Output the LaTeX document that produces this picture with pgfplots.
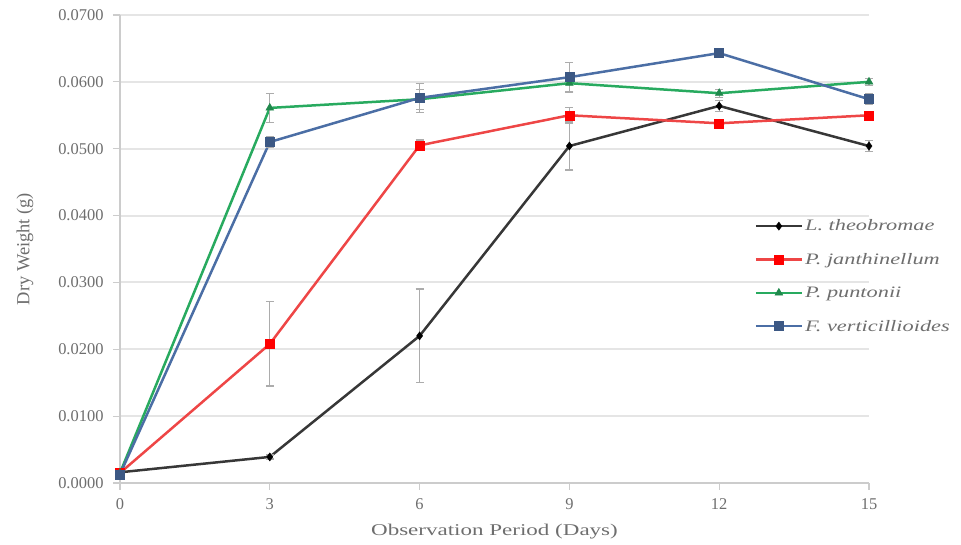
\documentclass[border=0pt]{standalone}
\usepackage{fontspec}
\setmainfont{Liberation Serif}[FakeStretch=1.4]
\newfontfamily\ylabfont{Liberation Serif}
\usepackage{pgfplots}
\pgfplotsset{compat=1.18}
\definecolor{lblack}{RGB}{55,55,55}
\definecolor{lred}{RGB}{238,70,70}
\definecolor{lgreen}{RGB}{40,170,95}
\definecolor{lblue}{RGB}{75,110,165}
\definecolor{txt}{RGB}{110,110,110}
\begin{document}
\begin{tikzpicture}
\begin{axis}[
  scale only axis,
  width=749bp, height=468bp,
  xmin=0, xmax=15, ymin=0, ymax=0.07,
  xtick={0,3,6,9,12,15},
  xticklabels={0,3,6,9,12,15},
  ytick={0,0.01,0.02,0.03,0.04,0.05,0.06,0.07},
  yticklabels={0.0000,0.0100,0.0200,0.0300,0.0400,0.0500,0.0600,0.0700},
  scaled y ticks=false,
  tick label style={font=\ylabfont\fontsize{16.5}{18}\selectfont, text=txt},
  xticklabel style={yshift=-5bp},
  yticklabel style={xshift=-6bp},
  xlabel={Observation Period (Days)},
  ylabel={Dry Weight (g)},
  xlabel style={at={(axis description cs:0.5,-0.1047)}, anchor=center, font=\fontsize{16.5}{18}\selectfont, text=txt},
  ylabel style={at={(axis description cs:-0.127,0.5)}, anchor=center, font=\ylabfont\fontsize{18.5}{20}\selectfont, text=txt},
  axis x line*=bottom, axis y line*=left,
  axis line style={gray!40, line width=1.5bp, -},
  tick style={gray!40, line width=1.2bp},
  tick align=outside, major tick length=7bp,
  ymajorgrids, grid style={gray!20, line width=2bp},
  clip=false,
  legend style={at={(rel axis cs:0.847,0.567)}, anchor=north west, draw=none, fill=none, inner sep=0pt,
    font=\fontsize{16}{18}\selectfont\itshape, text=txt, row sep=17bp},
  legend cell align=left,
  legend image code/.code={\draw[mark repeat=2, mark phase=2] plot coordinates {(0bp,0bp) (23bp,0bp) (46bp,0bp)};},
  every axis plot/.append style={line width=2.5bp},
  error bars/y dir=both, error bars/y explicit,
  error bars/error bar style={gray!65, line width=1.3bp},
  error bars/error mark options={rotate=90, mark size=4bp, gray!65, line width=1.3bp},
]
\coordinate (bl) at (rel axis cs:0,0);
\coordinate (tr) at (rel axis cs:1,1);
\addplot[color=lblack, mark=diamond*, mark size=4bp, mark options={fill=black, draw=black, line width=0.5bp}] coordinates {
  (0,0.0016) +- (0,0.0002)
  (3,0.0039) +- (0,0.0003)
  (6,0.0220) +- (0,0.0070)
  (9,0.0504) +- (0,0.0036)
  (12,0.0564) +- (0,0.0008)
  (15,0.0504) +- (0,0.0008)};
\addlegendentry{L. theobromae}
\addplot[color=lred, mark=square*, mark size=4.5bp, mark options={fill=red, draw=red, line width=0.5bp}] coordinates {
  (0,0.0015) +- (0,0.0002)
  (3,0.0208) +- (0,0.0063)
  (6,0.0505) +- (0,0.0008)
  (9,0.0550) +- (0,0.0012)
  (12,0.0538) +- (0,0.0006)
  (15,0.0550) +- (0,0.0006)};
\addlegendentry{P. janthinellum}
\addplot[color=lgreen, mark=triangle*, mark size=4.5bp, mark options={fill=lgreen!80!black, draw=lgreen!80!black, line width=0.5bp}] coordinates {
  (0,0.0015) +- (0,0.0002)
  (3,0.0561) +- (0,0.0022)
  (6,0.0574) +- (0,0.0015)
  (9,0.0598) +- (0,0.0012)
  (12,0.0583) +- (0,0.0006)
  (15,0.0600) +- (0,0.0005)};
\addlegendentry{P. puntonii}
\addplot[color=lblue, mark=square*, mark size=4.5bp, mark options={fill=lblue!80!black, draw=lblue!80!black, line width=0.5bp}] coordinates {
  (0,0.0013) +- (0,0.0002)
  (3,0.0510) +- (0,0.0008)
  (6,0.0576) +- (0,0.0022)
  (9,0.0607) +- (0,0.0022)
  (12,0.0643) +- (0,0.0005)
  (15,0.0574) +- (0,0.0008)};
\addlegendentry{F. verticillioides}
\end{axis}
\pgfresetboundingbox
\path ([shift={(-120bp,-62bp)}]bl) rectangle ([shift={(92bp,15bp)}]tr);
\end{tikzpicture}
\end{document}
